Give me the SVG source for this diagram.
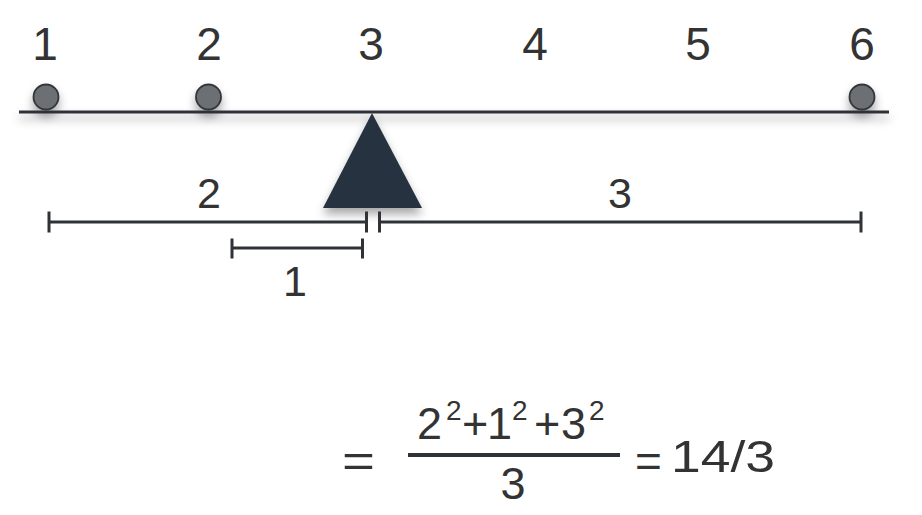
<svg xmlns="http://www.w3.org/2000/svg" width="922" height="515" viewBox="0 0 922 515">
  <defs>
    <style>
      .lbl { font-family: "Liberation Sans", Arial, sans-serif; fill: #333; text-anchor: middle; }
      .top { font-size: 46px; }
      .dim { font-size: 43px; }
      .eq { font-family: "Liberation Sans", Arial, sans-serif; fill: #333; font-size: 45px; }
      .sup { font-size: 28px; }
      .eqs { font-size: 46px; }
      .ln { stroke: #2f3237; stroke-width: 3; fill: none; }
      .ball { fill: #6c6f74; stroke: #33363b; stroke-width: 1.8; }
    </style>
    <filter id="sh" x="-20%" y="-50%" width="140%" height="250%">
      <feDropShadow dx="0" dy="6" stdDeviation="5" flood-color="#000" flood-opacity="0.35"/>
    </filter>
  </defs>
  <rect width="922" height="515" fill="#ffffff"/>

  <g id="labels-top">
    <text class="lbl top" x="45" y="60">1</text>
    <text class="lbl top" x="209" y="60">2</text>
    <text class="lbl top" x="371" y="60">3</text>
    <text class="lbl top" x="535" y="60">4</text>
    <text class="lbl top" x="698" y="60">5</text>
    <text class="lbl top" x="862" y="60">6</text>
  </g>

  <g id="seesaw" filter="url(#sh)">
    <line class="ln" x1="19" y1="112" x2="889" y2="112"/>
    <circle id="ball1" class="ball" cx="46" cy="97" r="12.5"/>
    <circle id="ball2" class="ball" cx="208.5" cy="97" r="12.5"/>
    <circle id="ball6" class="ball" cx="862" cy="97" r="12.5"/>
    <polygon id="fulcrum" points="372,113 323,208 422,208" fill="#27323f"/>
  </g>

  <g id="dimensions">
    <path class="ln" d="M49,222 H366.5 M49,211.5 V232.5 M366.5,211.5 V232.5"/>
    <path class="ln" d="M379.5,222 H861 M379.5,211.5 V232.5 M861,211.5 V232.5"/>
    <path class="ln" d="M232,248 H362.5 M232,238.5 V258.5 M362.5,238.5 V258.5"/>
    <text class="lbl dim" x="209" y="208">2</text>
    <text class="lbl dim" x="620" y="208">3</text>
    <text class="lbl dim" x="295" y="296">1</text>
  </g>

  <g id="equation">
    <text class="eq eqs" x="342" y="477" textLength="33" lengthAdjust="spacingAndGlyphs">=</text>
    <text class="eq" y="439">
      <tspan x="417">2</tspan><tspan class="sup" x="446" y="420">2</tspan><tspan x="462" y="439">+</tspan><tspan x="487">1</tspan><tspan class="sup" x="512" y="420">2</tspan><tspan x="534" y="439">+</tspan><tspan x="561">3</tspan><tspan class="sup" x="589" y="420">2</tspan>
    </text>
    <line x1="408" y1="455" x2="620" y2="455" stroke="#2f3237" stroke-width="4"/>
    <text class="eq" x="513" y="499" text-anchor="middle">3</text>
    <text class="eq" y="472"><tspan class="eqs" x="635" y="477">=</tspan><tspan x="671" y="472" textLength="104" lengthAdjust="spacingAndGlyphs">14/3</tspan></text>
  </g>
</svg>
